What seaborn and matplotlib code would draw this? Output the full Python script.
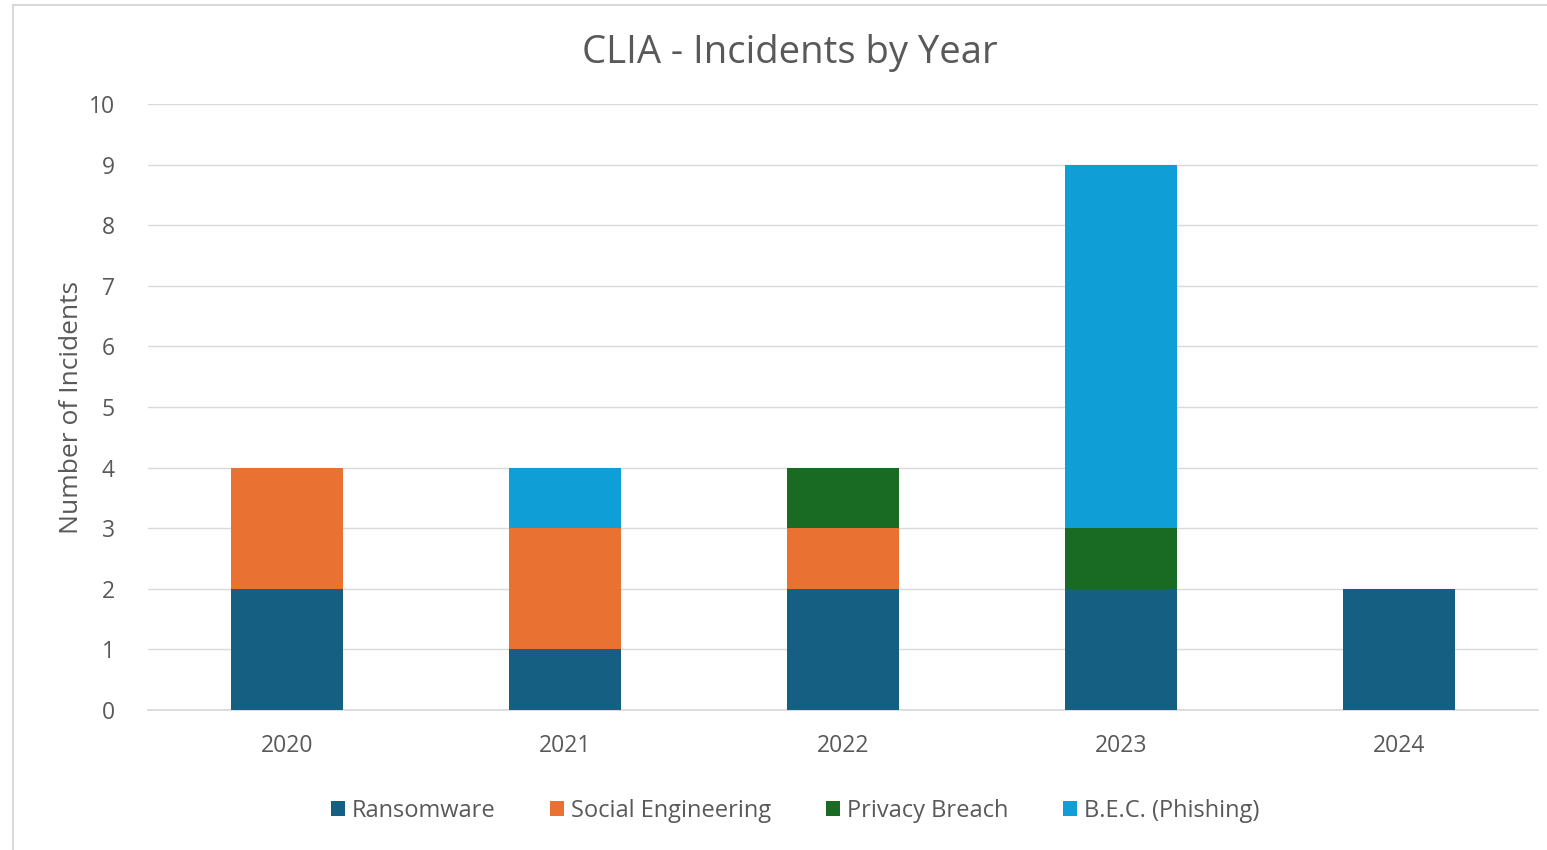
import matplotlib
matplotlib.use("Agg")
import matplotlib.pyplot as plt
import seaborn as sns
import pandas as pd
import numpy as np
from matplotlib.patches import Rectangle, Patch

years = ["2020", "2021", "2022", "2023", "2024"]
ransomware = [2, 1, 2, 2, 2]
social_engineering = [2, 2, 1, 0, 0]
privacy_breach = [0, 0, 1, 1, 0]
bec_phishing = [0, 1, 0, 6, 0]
series_names = ["Ransomware", "Social Engineering", "Privacy Breach", "B.E.C. (Phishing)"]
colors = ["#156082", "#E97132", "#196B24", "#0F9ED5"]

sns.set_theme(style="white")
plt.rcParams['font.family'] = ['Open Sans', 'DejaVu Sans']
text_color = "#595959"

fig = plt.figure(figsize=(15.47, 8.5), dpi=100)
ax = fig.add_axes([148/1547, 1-710/850, (1538-148)/1547, (710-104)/850])

series = [ransomware, social_engineering, privacy_breach, bec_phishing]
bottom = np.zeros(len(years))
for name, vals, col in zip(series_names, series, colors):
    df = pd.DataFrame({"year": years, "value": vals})
    sns.barplot(data=df, x="year", y="value", color=col, width=0.4,
                bottom=bottom, ax=ax, saturation=1, linewidth=0, zorder=3)
    bottom = bottom + np.array(vals)

ax.set_xlim(-0.5, 4.5)
ax.set_ylim(0, 10)
ax.set_yticks(range(0, 11))
ax.grid(axis="y", color="#d9d9d9", linewidth=1, zorder=0)
ax.grid(axis="x", visible=False)
for s in ["top", "right", "left"]:
    ax.spines[s].set_visible(False)
ax.spines["bottom"].set_color("#d9d9d9")
ax.tick_params(axis="both", colors=text_color, labelsize=16.5, length=0)
ax.tick_params(axis="y", pad=24)
ax.tick_params(axis="x", pad=17)
ax.set_xlabel("")
ax.set_ylabel("Number of Incidents", fontsize=19, color=text_color, labelpad=3)

fig.text(790/1547, 1-53/850, "CLIA - Incidents by Year", ha="center", va="center",
         fontsize=27.5, color=text_color)

handles = [Patch(facecolor=c, edgecolor="none") for c in colors]
fig.legend(handles, series_names, loc="center", bbox_to_anchor=(795/1547, 1-811/850),
           ncol=4, frameon=False, fontsize=17, labelcolor=text_color,
           handlelength=0.6, handleheight=0.6, handletextpad=0.3, columnspacing=2.3)

border = Rectangle((13/1547, -0.05), 1.1, 1-5/850+0.05, transform=fig.transFigure,
                   fill=False, edgecolor="#d9d9d9", linewidth=1.5, clip_on=False)
fig.add_artist(border)

fig.savefig("out.png", dpi=100, facecolor="white")
